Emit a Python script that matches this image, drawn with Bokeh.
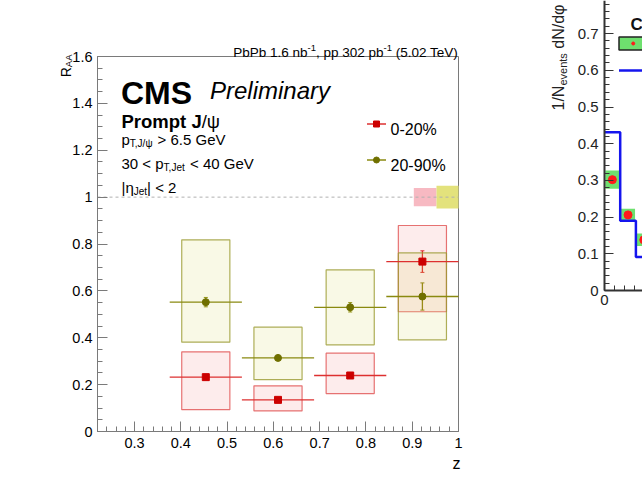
import math
from bokeh.plotting import figure
from bokeh.layouts import row
from bokeh.models import (Range1d, FixedTicker, Label, Whisker, TeeHead,
                          ColumnDataSource)
from bokeh.embed import file_html
from bokeh.resources import INLINE

# ---------------------------------------------------------------- data
# z bins of the J/psi fragmentation measurement
z_edges = [0.376, 0.532, 0.688, 0.844, 1.0]

# 0-20% centrality
raa_c0 = [0.232, 0.135, 0.239, 0.725]
stat_c0 = [0.010, 0.010, 0.012, 0.046]
syst_dn_c0 = [0.139, 0.047, 0.077, 0.214]
syst_up_c0 = [0.108, 0.060, 0.095, 0.154]

# 20-90% centrality
raa_c1 = [0.552, 0.314, 0.530, 0.576]
stat_c1 = [0.020, 0.010, 0.020, 0.058]
syst_dn_c1 = [0.171, 0.093, 0.160, 0.185]
syst_up_c1 = [0.266, 0.131, 0.160, 0.186]

# global (normalisation) uncertainties drawn at R_AA = 1
global_unc = [0.039, 0.049]

x_ticks = [0.3, 0.4, 0.5, 0.6, 0.7, 0.8, 0.9, 1.0]
x_tick_labels = ["0.3", "0.4", "0.5", "0.6", "0.7", "0.8", "0.9", "1"]
y_ticks = [0.0, 0.2, 0.4, 0.6, 0.8, 1.0, 1.2, 1.4, 1.6]
y_tick_labels = ["0", "0.2", "0.4", "0.6", "0.8", "1", "1.2", "1.4", "1.6"]

# neighbouring panel: per-event distribution, data vs. simulation
nb_edges = [0.0, 0.157, 0.314, 0.471]
nb_data = [0.302, 0.206, 0.138]
nb_syst = [0.025, 0.017, 0.017]
nb_model = [0.431, 0.190, 0.091]
nb_y_ticks = [0.0, 0.1, 0.2, 0.3, 0.4, 0.5, 0.6, 0.7]
nb_y_tick_labels = ["0", "0.1", "0.2", "0.3", "0.4", "0.5", "0.6", "0.7"]

# ---------------------------------------------------------------- style
FONT = "Liberation Sans"
RED = "#cc0000"
RED_LINE = "#dd3030"
OLIVE = "#707000"
OLIVE_LINE = "#8a8a10"
AXIS = "#7a7a7a"

# Helvetica advance widths (1/1000 em) for laying out sub/superscripts
W_REG = {' ': 278, '%': 889, '(': 333, ')': 333, ',': 278, '-': 333, '.': 278,
         '/': 278, '<': 584, '>': 584, '|': 260, 'A': 667, 'C': 722,
         'G': 778, 'J': 500, 'M': 833, 'N': 722, 'P': 667, 'R': 722,
         'S': 667, 'T': 611, 'V': 667, 'a': 556, 'b': 556, 'd': 556,
         'e': 556, 'i': 222, 'l': 222, 'm': 833, 'n': 556, 'o': 556,
         'p': 556, 'r': 333, 's': 500, 't': 278, 'v': 500, 'y': 500,
         'z': 500, 'ψ': 686, 'η': 556, 'φ': 600}
W_BOLD = {'P': 667, 'r': 389, 'o': 611, 'm': 889, 'p': 611, 't': 333,
          'J': 556, ' ': 278, 'C': 722, 'M': 833, 'S': 667}


def text_width(s, size, bold=False):
    tot = 0
    for ch in s:
        if bold and ch in W_BOLD:
            tot += W_BOLD[ch]
        else:
            tot += W_REG.get(ch, 556)
    return tot * size / 1000.0


def put_runs(fig, fx, fy, x_px, y_px, runs, vertical=False, color="black"):
    """Lay out text runs (text, size, baseline shift, style) one after another."""
    pos = y_px if vertical else x_px
    for txt, size, shift, style in runs:
        bold = "bold" in style
        lead = len(txt) - len(txt.lstrip(" "))
        step = text_width(" " * lead, size, bold)
        pos = pos - step if vertical else pos + step
        body = txt.strip(" ")
        if vertical:
            lx, ly, ang = x_px + shift, pos, math.pi / 2
        else:
            lx, ly, ang = pos, y_px + shift, 0.0
        fig.add_layout(Label(x=fx(lx), y=fy(ly), text=body, angle=ang,
                             text_font=FONT, text_font_size=f"{size}px",
                             text_font_style=style, text_color=color,
                             text_baseline="alphabetic", text_align="left"))
        w = text_width(body, size, bold)
        pos = pos - w if vertical else pos + w


def style_axis(ax, color, width, major_in, minor_in, label_size, label_color):
    ax.axis_line_color = color
    ax.axis_line_width = width
    ax.major_tick_line_color = color
    ax.minor_tick_line_color = color
    ax.major_tick_in = major_in
    ax.major_tick_out = 0
    ax.minor_tick_in = minor_in
    ax.minor_tick_out = 0
    ax.major_label_text_font = FONT
    ax.major_label_text_font_size = label_size
    ax.major_label_text_color = label_color


# ---------------------------------------------------------------- main panel
XR = (0.22, 1.0)
YR = (0.0, 1.6)
FL, FR, FT, FB = 97, 458, 56, 431  # edges of the drawn box on the page (px)
W1, H = 520, 482


def mx(px):
    return XR[0] + (px - FL) * (XR[1] - XR[0]) / (FR - FL)


def my(py):
    return YR[0] + (FB - py) * (YR[1] - YR[0]) / (FB - FT)


# the canvas is one big frame so that texts around the box stay visible;
# the axes sit at fixed data positions on the box edges
p = figure(width=W1, height=H, title=None,
           x_range=Range1d(mx(0), mx(W1)), y_range=Range1d(my(H), my(0)),
           output_backend="svg", toolbar_location=None, min_border=0)
p.xgrid.visible = False
p.ygrid.visible = False
p.outline_line_color = None
p.background_fill_color = "white"
p.border_fill_color = "white"

minor_x = [round(0.22 + 0.02 * i, 2) for i in range(40)]
minor_y = [round(0.05 * i, 2) for i in range(33)]
p.xaxis.ticker = FixedTicker(ticks=x_ticks, minor_ticks=minor_x)
p.yaxis.ticker = FixedTicker(ticks=y_ticks, minor_ticks=minor_y)
p.xaxis.major_label_overrides = dict(zip(x_ticks, x_tick_labels))
p.yaxis.major_label_overrides = dict(zip(y_ticks, y_tick_labels))
p.xaxis.fixed_location = YR[0]
p.yaxis.fixed_location = XR[0]
p.xaxis.bounds = XR
p.yaxis.bounds = YR
style_axis(p.xaxis, AXIS, 1, 10, 5, "14.5px", "black")
style_axis(p.yaxis, AXIS, 1, 10, 5, "14.5px", "black")
p.xaxis.major_label_standoff = 6
p.yaxis.major_label_standoff = 5

# box around the plotting area
p.quad(left=[XR[0]], right=[XR[1]], bottom=[YR[0]], top=[YR[1]],
       fill_color=None, line_color=AXIS, line_width=1)

centers = [(a + b) / 2 for a, b in zip(z_edges[:-1], z_edges[1:])]
half_box = (z_edges[1] - z_edges[0]) / 3


def series_source(vals, stat, sdn, sup):
    return ColumnDataSource(dict(
        x=centers, y=vals,
        x0=z_edges[:-1], x1=z_edges[1:],
        lo=[v - s for v, s in zip(vals, stat)],
        hi=[v + s for v, s in zip(vals, stat)],
        bl=[c - half_box for c in centers],
        br=[c + half_box for c in centers],
        bb=[v - d for v, d in zip(vals, sdn)],
        bt=[v + u for v, u in zip(vals, sup)],
    ))


src0 = series_source(raa_c0, stat_c0, syst_dn_c0, syst_up_c0)
src1 = series_source(raa_c1, stat_c1, syst_dn_c1, syst_up_c1)

# systematic boxes
p.quad(left="bl", right="br", bottom="bb", top="bt", source=src0,
       fill_color="#ee3030", fill_alpha=0.09,
       line_color="#e05050", line_alpha=0.8, line_width=1.2)
p.quad(left="bl", right="br", bottom="bb", top="bt", source=src1,
       fill_color="#d0d040", fill_alpha=0.13,
       line_color="#9a9a30", line_alpha=0.8, line_width=1.2)

# global uncertainty boxes at unity
p.quad(left=[mx(413.3)], right=[mx(436)], bottom=[1 - global_unc[0]],
       top=[1 + global_unc[0]], fill_color="#f7b9c2", line_color=None)
p.quad(left=[mx(436)], right=[XR[1]], bottom=[1 - global_unc[1]],
       top=[1 + global_unc[1]], fill_color="#e3e27c", line_color=None)

p.segment(x0=[XR[0]], x1=[XR[1]], y0=[1.0], y1=[1.0], line_color="#b0b0b0",
          line_dash="3 3", line_width=1)

# statistical errors and points
for src, lc, mc, mk in ((src1, OLIVE_LINE, OLIVE, "circle"),
                        (src0, RED_LINE, RED, "square")):
    p.segment(x0="x0", x1="x1", y0="y", y1="y", source=src,
              line_color=lc, line_width=1.3)
    p.add_layout(Whisker(source=src, base="x", lower="lo", upper="hi",
                         dimension="height", line_color=lc, line_width=1.3,
                         upper_head=TeeHead(size=4, line_color=lc),
                         lower_head=TeeHead(size=4, line_color=lc)))
    p.scatter(x="x", y="y", source=src, marker=mk, size=7,
              fill_color=mc, line_color=mc)

# legend
for yy, lc, mc, mk, name in ((123.5, RED_LINE, RED, "square", "0-20%"),
                              (159.5, OLIVE_LINE, OLIVE, "circle", "20-90%")):
    p.segment(x0=[mx(366.5)], x1=[mx(385.5)], y0=[my(yy)], y1=[my(yy)],
              line_color=lc, line_width=1.3)
    p.scatter(x=[mx(376)], y=[my(yy)], marker=mk, size=6,
              fill_color=mc, line_color=mc)
    put_runs(p, mx, my, 390, yy + 5.5, [(name, 16, 0, "normal")])

# header
hdr = [("PbPb 1.6 nb", 13.5, 0, "normal"), ("-1", 9.5, -5, "normal"),
       (", pp 302 pb", 13.5, 0, "normal"), ("-1", 9.5, -5, "normal"),
       (" (5.02 TeV)", 13.5, 0, "normal")]
hdr_w = sum(text_width(t, s) for t, s, _, _ in hdr)
put_runs(p, mx, my, 459 - hdr_w, 52, hdr)

put_runs(p, mx, my, 120.5, 92.7, [("CMS", 32, 0, "bold")])
put_runs(p, mx, my, 209.5, 89.5, [("Preliminary", 24, 0, "italic")])
put_runs(p, mx, my, 121, 121, [("Prompt J", 18.5, 0, "bold"),
                               ("/ψ", 18.5, 0, "normal")])
put_runs(p, mx, my, 121, 139, [("p", 15, 0, "normal"),
                               ("T,J/ψ", 10, 4, "normal"),
                               (" > 6.5 GeV", 15, 0, "normal")])
put_runs(p, mx, my, 121, 163, [("30 < p", 15, 0, "normal"),
                               ("T,Jet", 10, 4, "normal"),
                               (" < 40 GeV", 15, 0, "normal")])
put_runs(p, mx, my, 121, 187, [("|η", 15, 0, "normal"),
                               ("Jet", 10, 4, "normal"),
                               ("| < 2", 15, 0, "normal")])

# axis titles
raa_runs = [("R", 14, 0, "normal"), ("AA", 9.5, 3, "normal")]
raa_len = sum(text_width(t, s) for t, s, _, _ in raa_runs)
put_runs(p, mx, my, 65, 54 + raa_len, raa_runs, vertical=True)
zw = text_width("z", 16)
put_runs(p, mx, my, 460 - zw, 463, [("z", 16, 0, "normal")])

# ---------------------------------------------------------------- neighbour panel
W2 = 642 - W1
N_FL, N_FB = 604, 290          # axis corner on the page (px)


def nx(px):
    return (px - N_FL) / 100.0


def ny(py):
    return (N_FB - py) / 367.0


q = figure(width=W2, height=H, title=None,
           x_range=Range1d(nx(W1), nx(642)), y_range=Range1d(ny(H), ny(0)),
           output_backend="svg", toolbar_location=None, min_border=0)
q.xgrid.visible = False
q.ygrid.visible = False
q.outline_line_color = None
q.xaxis.ticker = FixedTicker(ticks=[0.0, 0.5], minor_ticks=[0.1, 0.2, 0.3])
q.yaxis.ticker = FixedTicker(ticks=nb_y_ticks,
                             minor_ticks=[round(0.02 * i, 2) for i in range(40)])
q.xaxis.major_label_overrides = {0.0: "0"}
q.yaxis.major_label_overrides = dict(zip(nb_y_ticks, nb_y_tick_labels))
q.xaxis.fixed_location = 0.0
q.yaxis.fixed_location = 0.0
q.xaxis.bounds = (0.0, nx(642))
q.yaxis.bounds = (0.0, ny(0))
style_axis(q.xaxis, "#333333", 2, 9, 5, "15px", "#222222")
style_axis(q.yaxis, "#333333", 2, 9, 5, "15px", "#222222")
q.xaxis.major_label_standoff = 4
q.yaxis.major_label_standoff = 6

nb_c = [(a + b) / 2 for a, b in zip(nb_edges[:-1], nb_edges[1:])]
q.quad(left=[c - 0.07 for c in nb_c], right=[c + 0.07 for c in nb_c],
       bottom=[v - s for v, s in zip(nb_data, nb_syst)],
       top=[v + s for v, s in zip(nb_data, nb_syst)],
       fill_color="#6ee06e", line_color=None)
q.step(x=nb_edges, y=nb_model + [nb_model[-1]], mode="after",
       line_color="#1515ee", line_width=2.5)
q.scatter(x=nb_c, y=nb_data, marker="circle", size=8,
          fill_color="#ff1a1a", line_color="#ff1a1a")

# legend fragment
q.quad(left=[nx(618.5)], right=[nx(660)], bottom=[ny(49.5)], top=[ny(36.5)],
       fill_color="#6ee06e", line_color="#222222", line_width=1.5)
q.scatter(x=[nx(632.7)], y=[ny(43)], marker="circle", size=3,
          fill_color="#ff1a1a", line_color="#ff1a1a")
q.segment(x0=[nx(618.5)], x1=[nx(660)], y0=[ny(70)], y1=[ny(70)],
          line_color="#1515ee", line_width=2.5)
put_runs(q, nx, ny, 630, 23.5, [("C", 17, 0, "bold")], color="#111111")

put_runs(q, nx, ny, 558, 110, [("1/N", 16, 0, "normal"),
                               ("events", 11, 4, "normal"),
                               (" dN/dφ", 16, 0, "normal")],
         vertical=True, color="#222222")

layout = row(p, q)
open("out.html", "w").write(file_html(layout, INLINE))
